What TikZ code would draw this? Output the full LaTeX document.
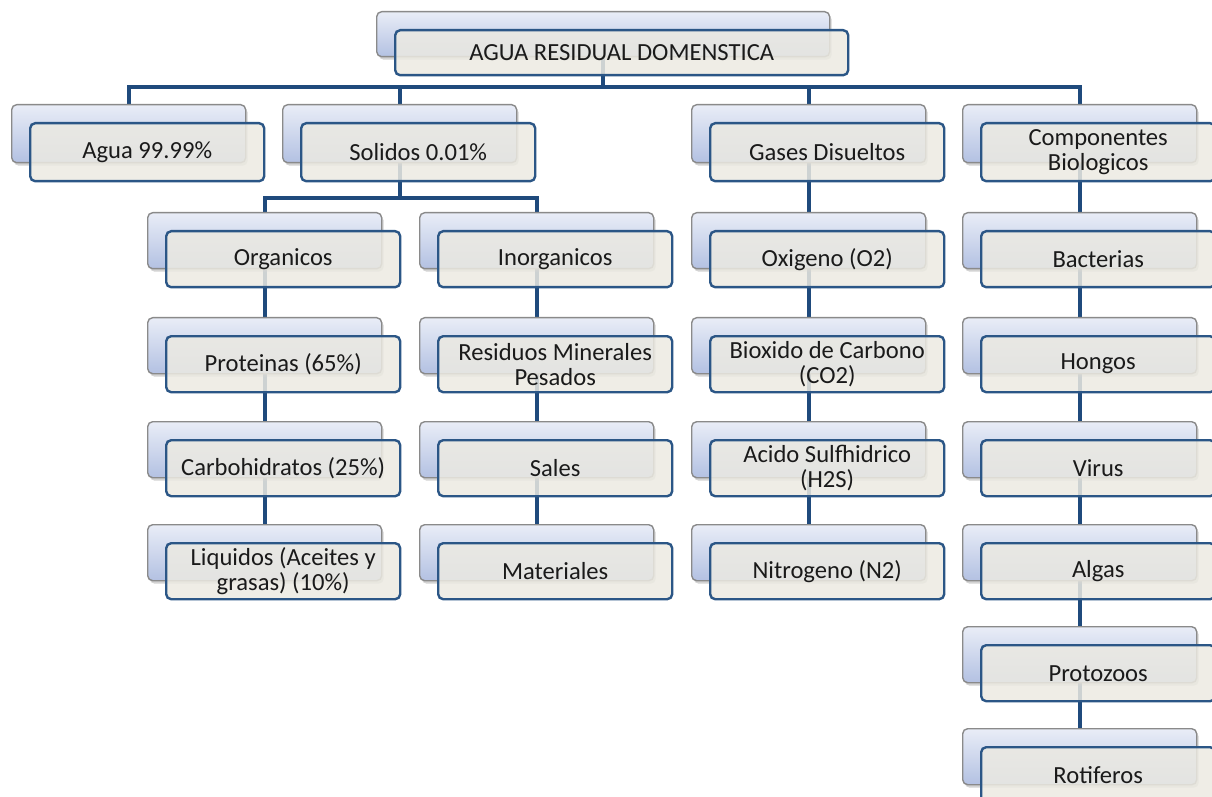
\documentclass[tikz,border=0pt]{standalone}
\usepackage{fontspec}
\setmainfont{Carlito}
\usetikzlibrary{shadows,backgrounds}
\definecolor{linec}{HTML}{1F4A7C}
\definecolor{frontd}{HTML}{2B5686}
\definecolor{frontf}{HTML}{ECEAE2}
\definecolor{backt}{HTML}{E9EDF7}
\definecolor{backb}{HTML}{B3C1E2}
\definecolor{backd}{HTML}{8A8A8A}
\definecolor{txt}{HTML}{1A1A1A}
\tikzset{
  backbox/.style={anchor=north west, rectangle, rounded corners=2.5pt, draw=backd,
    line width=0.7pt, top color=backt, bottom color=backb, inner sep=0pt,
    drop shadow={shadow xshift=1pt, shadow yshift=-1.5pt, opacity=0.35}},
  frontbox/.style={anchor=north west, rectangle, rounded corners=2.5pt, draw=frontd,
    line width=1.2pt, fill=frontf, fill opacity=0.85, text opacity=1, inner sep=0pt,
    align=center, font=\fontsize{12.3}{12.6}\selectfont, text=txt},
  conn/.style={draw=linec, line width=2pt},
}
\newcommand\twobox[6]{%
  \node[backbox, minimum width=#4, minimum height=#5] (#1-b) at (#2,#3) {};
  \node[frontbox, minimum width=#4, minimum height=#5] (#1) at ({#2+18},{#3+18}) {#6};
}
\begin{document}
\begin{tikzpicture}[x=0.5pt,y=-0.5pt]
\useasboundingbox (0,0) rectangle (1212,797);
% top
\twobox{top}{376}{11}{226.5pt}{22.5pt}{AGUA RESIDUAL DOMENSTICA}
% level 1
\twobox{agua}{11}{104}{117pt}{29pt}{Agua 99.99\%}
\twobox{sol}{282}{104}{117pt}{29pt}{Solidos 0.01\%}
\twobox{gas}{691}{104}{117pt}{29pt}{Gases Disueltos}
\twobox{comp}{962}{104}{117pt}{29pt}{Componentes\\Biologicos}
% organicos column
\twobox{org}{147}{212}{117pt}{28pt}{Organicos}
\twobox{prot}{147}{317}{117pt}{28pt}{Proteinas (65\%)}
\twobox{carb}{147}{421}{117pt}{28pt}{Carbohidratos (25\%)}
\twobox{liq}{147}{524}{117pt}{28pt}{Liquidos (Aceites y\\grasas) (10\%)}
% inorganicos column
\twobox{inorg}{419}{212}{117pt}{28pt}{Inorganicos}
\twobox{res}{419}{317}{117pt}{28pt}{Residuos Minerales\\Pesados}
\twobox{sales}{419}{421}{117pt}{28pt}{Sales}
\twobox{mat}{419}{524}{117pt}{28pt}{Materiales}
% gases column
\twobox{oxi}{691}{212}{117pt}{28pt}{Oxigeno (O2)}
\twobox{biox}{691}{317}{117pt}{28pt}{Bioxido de Carbono\\(CO2)}
\twobox{acido}{691}{421}{117pt}{28pt}{Acido Sulfhidrico\\(H2S)}
\twobox{nitro}{691}{524}{117pt}{28pt}{Nitrogeno (N2)}
% biologicos column
\twobox{bact}{962}{212}{117pt}{28pt}{Bacterias}
\twobox{hong}{962}{317}{117pt}{28pt}{Hongos}
\twobox{virus}{962}{421}{117pt}{28pt}{Virus}
\twobox{algas}{962}{524}{117pt}{28pt}{Algas}
\twobox{proto}{962}{626}{117pt}{28pt}{Protozoos}
\twobox{roti}{962}{728}{117pt}{28pt}{Rotiferos}
% connectors
\begin{scope}[on background layer]
  \coordinate (bar1) at (603,87);
  \coordinate (bar2) at (400,198);
  \draw[conn] (top-b.center) -- (top-b.center |- bar1);
  \draw[conn] (agua-b.center) -- (agua-b.center |- bar1) -- (comp-b.center |- bar1) -- (comp-b.center);
  \draw[conn] (sol-b.center) -- (sol-b.center |- bar1);
  \draw[conn] (gas-b.center) -- (gas-b.center |- bar1);
  \draw[conn] (sol-b.center) -- (sol-b.center |- bar2);
  \draw[conn] (org-b.center) -- (org-b.center |- bar2) -- (inorg-b.center |- bar2) -- (inorg-b.center);
  \draw[conn] (org-b.center) -- (prot-b.center) -- (carb-b.center) -- (liq-b.center);
  \draw[conn] (inorg-b.center) -- (res-b.center) -- (sales-b.center) -- (mat-b.center);
  \draw[conn] (gas-b.center) -- (oxi-b.center) -- (biox-b.center) -- (acido-b.center) -- (nitro-b.center);
  \draw[conn] (comp-b.center) -- (bact-b.center) -- (hong-b.center) -- (virus-b.center) -- (algas-b.center) -- (proto-b.center) -- (roti-b.center);
\end{scope}
\end{tikzpicture}
\end{document}
